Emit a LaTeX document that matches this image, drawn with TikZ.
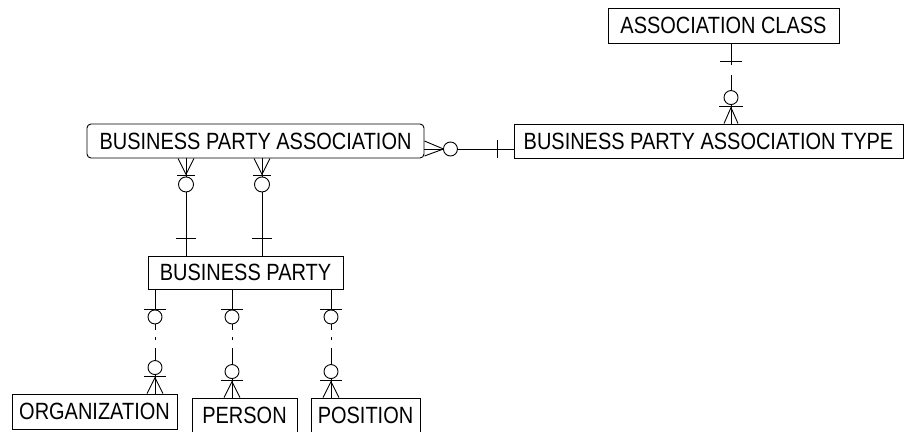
\documentclass[tikz,border=0pt]{standalone}
\usepackage{fontspec}
\setmainfont{Liberation Sans}
\newfontfamily\erfont[FakeStretch=0.85]{Liberation Sans}
\usetikzlibrary{calc}
\begin{document}
\begin{tikzpicture}[x=1pt,y=-1pt,
  entity/.style={draw, line width=0.9pt, inner sep=0pt, anchor=center,
    font=\erfont\fontsize{23.5}{26}\selectfont},
  rel/.style={line width=0.9pt},
  relnull/.style={line width=0.9pt, fill=white},
  dashdot/.style={line width=0.9pt, dash pattern=on 6pt off 7pt on 3pt off 8pt on 40pt}]
\useasboundingbox (0,0) rectangle (904,431);

% entities
\node[entity, minimum width=231pt, minimum height=35pt] (ac) at (723.5,25.5) {ASSOCIATION CLASS};
\node[entity, rounded corners=4pt, minimum width=337pt, minimum height=34pt] (bpa) at (255.5,141) {BUSINESS PARTY ASSOCIATION};
\node[entity, minimum width=389pt, minimum height=34pt] (bpat) at (708.5,141) {BUSINESS PARTY ASSOCIATION TYPE};
\node[entity, minimum width=195pt, minimum height=33pt] (bp) at (245.5,272.5) {BUSINESS PARTY};
\node[entity, minimum width=165pt, minimum height=35pt] (org) at (94.5,411.5) {ORGANIZATION};
\node[entity, minimum width=105pt, minimum height=35pt] (per) at (244.5,415.5) {PERSON};
\node[entity, minimum width=109pt, minimum height=35pt] (pos) at (365.5,415.5) {POSITION};

% business party association -- association type (zero or many : one)
\coordinate (h1) at (bpa.east |- 0,149);
\coordinate (h2) at (bpat.west |- 0,149);
\draw[rel] (h1) -- (h2);
\draw[rel] ($(h1)+(0,-8)$) -- ($(h1)+(19,0)$) -- ($(h1)+(0,7)$);
\draw[relnull] ($(h1)+(26,0)$) circle[radius=7];
\draw[rel] ($(h2)+(-16,-9)$) -- ++(0,18);

% business party association -- business party (two roles)
\foreach \x/\n in {186/a,262/b} {
  \coordinate (u\n) at (\x,0 |- bpa.south);
  \coordinate (l\n) at (\x,0 |- bp.north);
  \draw[rel] (u\n) -- (l\n);
  \draw[rel] ($(u\n)+(-8,0)$) -- ($(u\n)+(0,16)$) -- ($(u\n)+(8,0)$);
  \draw[rel] ($(u\n)+(-9,17)$) -- ++(18,0);
  \draw[relnull] ($(u\n)+(0,26)$) circle[radius=7.5];
  \draw[rel] ($(l\n)+(-10,-17)$) -- ++(20,0);
}

% business party -- subtypes (non-identifying, optional)
\foreach \x/\e/\n in {155/org/c,232/per/d,331/pos/e} {
  \coordinate (u\n) at (\x,0 |- bp.south);
  \coordinate (l\n) at (\x,0 |- \e.north);
  \draw[rel] (u\n) -- ($(u\n)+(0,20)$);
  \draw[rel] ($(u\n)+(-11,20)$) -- ++(22,0);
  \draw[rel] ($(u\n)+(0,27.5)$) circle[radius=7];
  \draw[dashdot] ($(u\n)+(0,34.5)$) -- ($(l\n)+(0,-33)$);
  \draw[rel] ($(l\n)+(0,-26)$) circle[radius=7];
  \draw[rel] ($(l\n)+(0,-19)$) -- (l\n);
  \draw[rel] ($(l\n)+(-11,-17)$) -- ++(22,0);
  \draw[rel] ($(l\n)+(-8,0)$) -- ($(l\n)+(0,-16)$) -- ($(l\n)+(8,0)$);
}

% association class -- association type
\coordinate (uf) at (731,0 |- ac.south);
\coordinate (lf) at (731,0 |- bpat.north);
\draw[rel] (uf) -- ++(0,22);
\draw[rel] ($(uf)+(-11,18)$) -- ++(22,0);
\draw[rel] ($(uf)+(0,32)$) -- ($(lf)+(0,-33)$);
\draw[rel] ($(lf)+(0,-26)$) circle[radius=7];
\draw[rel] ($(lf)+(0,-19)$) -- (lf);
\draw[rel] ($(lf)+(-12,-17)$) -- ++(24,0);
\draw[rel] ($(lf)+(-7,0)$) -- ($(lf)+(0,-16)$) -- ($(lf)+(7,0)$);
\end{tikzpicture}
\end{document}
